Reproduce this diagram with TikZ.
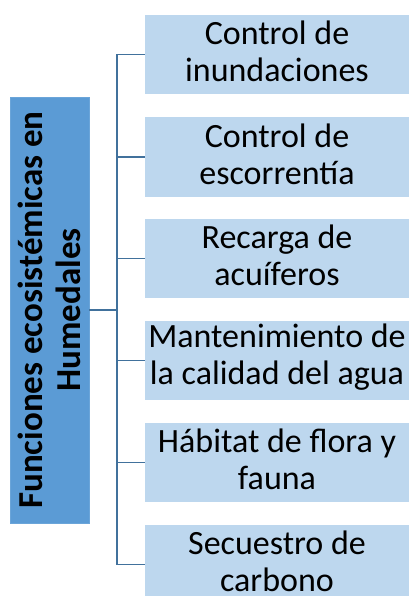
\documentclass[tikz,border=0pt]{standalone}
\usepackage{fontspec}
\setmainfont{Carlito}
\definecolor{mainblue}{HTML}{5B9BD5}
\definecolor{lightblue}{HTML}{BDD7EE}
\definecolor{linkblue}{HTML}{41719C}
\begin{document}
\begin{tikzpicture}[x=1pt,y=-1pt,
  main node/.style={rectangle,fill=mainblue,draw=mainblue!90!white,minimum width=79pt,minimum height=426pt,inner sep=0pt},
  item text/.style={align=center,inner sep=0pt,yshift=3pt,font=\fontsize{34}{37}\selectfont},
  item node/.style={rectangle,fill=lightblue,minimum width=264pt,minimum height=79pt,inner sep=0pt,label={[item text]center:#1}},
  link/.style={draw=linkblue,line width=1.6pt}]
  \useasboundingbox (0,0) rectangle (411,596);
  \clip (0,0) rectangle (411,596);

  \node[main node] at (49.5,310) (0) {};
  \node[rotate=90,align=center,font=\fontsize{35}{38}\bfseries\selectfont] at (49.5,310) {Funciones ecosistémicas en\\Humedales};

  \node[item node={Control de\\inundaciones}] at (277,54.5) (1) {};
  \node[item node={Control de\\escorrentía}] at (277,157) (2) {};
  \node[item node={Recarga de\\acuíferos}] at (277,258.5) (3) {};
  \node[item node={Mantenimiento de\\la calidad del agua}] at (277,360.5) (4) {};
  \node[item node={Hábitat de flora y\\fauna}] at (277,462.5) (5) {};
  \node[item node={Secuestro de\\carbono}] at (277,564.5) (6) {};

  \coordinate (fork) at (117,310);

  \path[link] (0.east) -- (fork);
  \foreach \i in {1,...,6}
    \path[link] (fork) |- (\i.west);
\end{tikzpicture}
\end{document}
